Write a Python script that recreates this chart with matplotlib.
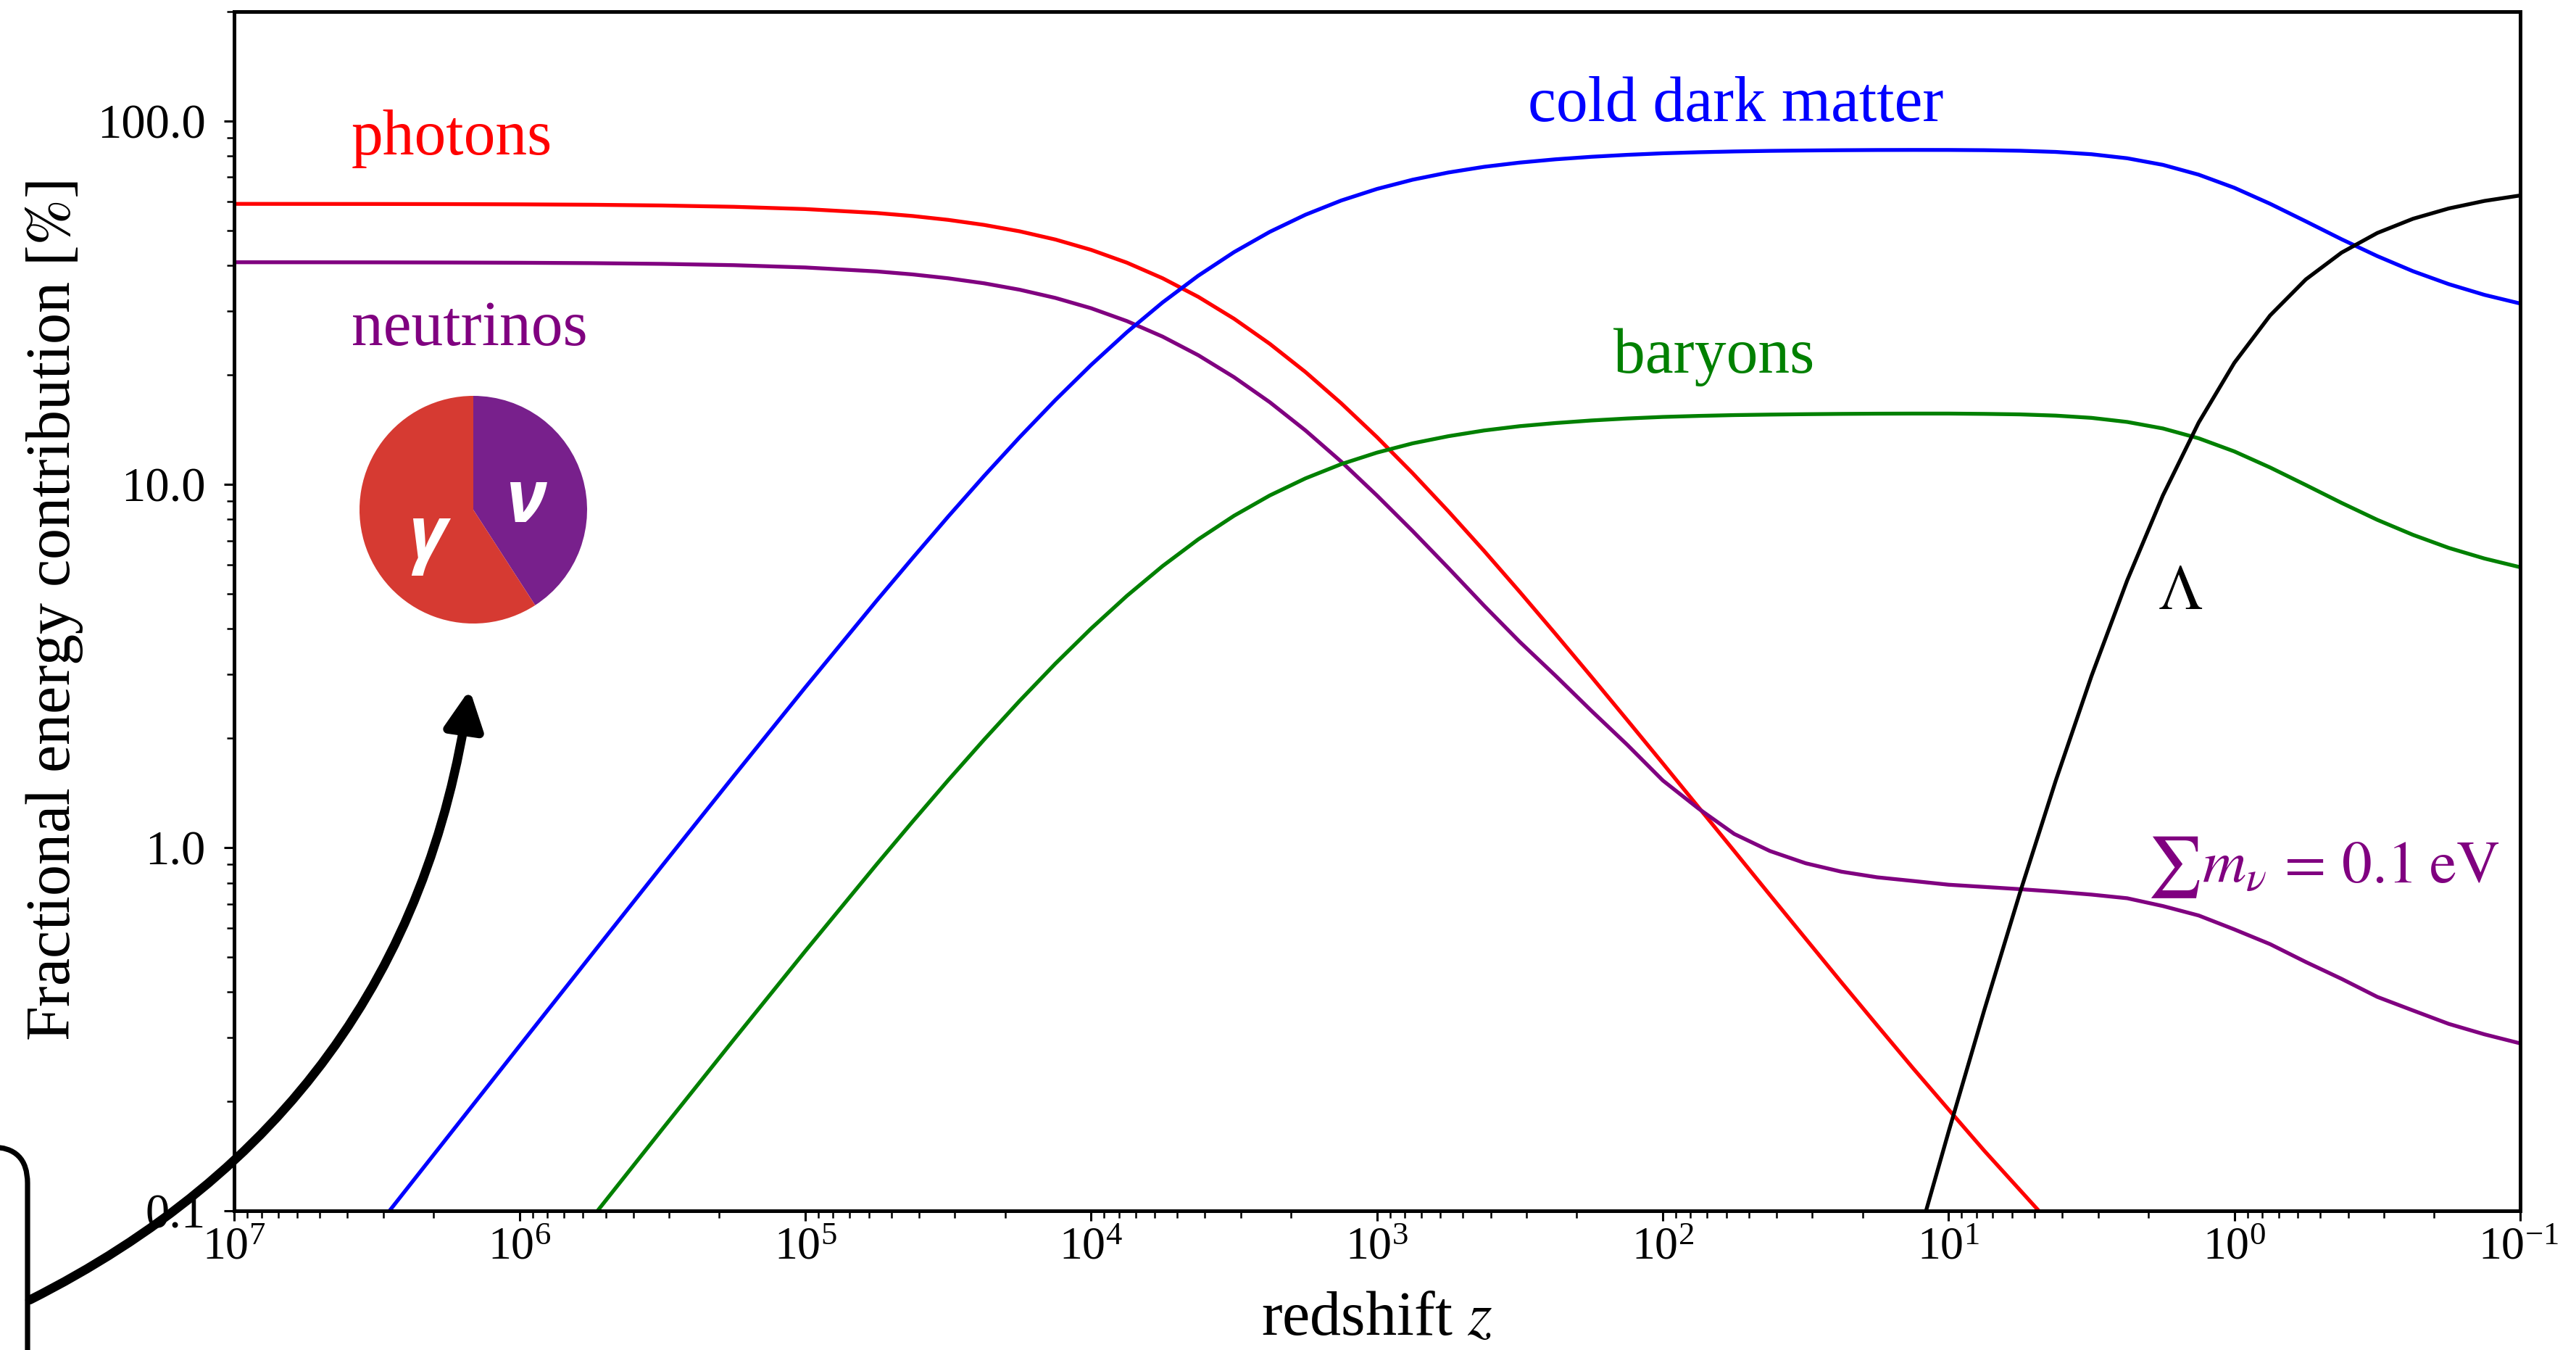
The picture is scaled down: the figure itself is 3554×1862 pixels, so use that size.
import numpy as np
import matplotlib
matplotlib.use("Agg")
import matplotlib.pyplot as plt
from matplotlib.ticker import (FixedLocator, FormatStrFormatter, LogLocator,
                               NullFormatter, FuncFormatter)
from matplotlib.patches import FancyArrowPatch, FancyBboxPatch

# ---------------- data ----------------
# exponents of the redshift samples (z = 10**z_exp)
z_exp = [7.0, 6.75, 6.5, 6.25, 6.0, 5.75, 5.5, 5.25, 5.0, 4.75,
         4.625, 4.5, 4.375, 4.25, 4.125, 4.0, 3.875, 3.75, 3.625, 3.5,
         3.375, 3.25, 3.125, 3.0, 2.875, 2.75, 2.625, 2.5, 2.375, 2.25,
         2.125, 2.0, 1.875, 1.75, 1.625, 1.5, 1.375, 1.25, 1.125, 1.0,
         0.875, 0.75, 0.625, 0.5, 0.375, 0.25, 0.125, 0.0, -0.125, -0.25,
         -0.375, -0.5, -0.625, -0.75, -0.875, -1.0]

# fractional energy contributions in percent
photons = [59.13, 59.11, 59.09, 59.04, 58.95, 58.80, 58.52, 58.04, 57.21, 55.79,
           54.75, 53.42, 51.75, 49.68, 47.16, 44.17, 40.73, 36.90, 32.79, 28.55,
           24.35, 20.36, 16.70, 13.48, 10.72, 8.42, 6.55, 5.05, 3.870, 2.953,
           2.246, 1.705, 1.291, 0.978, 0.740, 0.561, 0.4255, 0.324, 0.2472, 0.190,
           0.1463, 0.114, 0.0888, 0.070, 0.055, 0.0436, 0.0344, 0.0271, 0.0214, 0.0171,
           0.0139, 0.0116, 0.0099, 0.0087, 0.0078, 0.0072]

neutrinos = [40.84, 40.83, 40.81, 40.77, 40.71, 40.61, 40.42, 40.09, 39.51, 38.53,
             37.81, 36.89, 35.74, 34.31, 32.57, 30.51, 28.13, 25.49, 22.65, 19.71,
             16.82, 14.06, 11.54, 9.31, 7.43, 5.88, 4.63, 3.68, 2.97, 2.38,
             1.92, 1.53, 1.28, 1.09, 0.978, 0.905, 0.858, 0.828, 0.809, 0.79,
             0.779, 0.768, 0.756, 0.742, 0.725, 0.69, 0.65, 0.595, 0.542, 0.484,
             0.435, 0.388, 0.356, 0.327, 0.306, 0.289]

cdm = [0.0285, 0.0507, 0.0902, 0.1602, 0.2845, 0.5045, 0.8931, 1.575, 2.761, 4.787,
       6.261, 8.152, 10.53, 13.48, 17.06, 21.31, 26.21, 31.66, 37.51, 43.55,
       49.52, 55.20, 60.40, 64.99, 68.91, 72.14, 74.78, 76.82, 78.42, 79.68,
       80.67, 81.46, 82.01, 82.43, 82.73, 82.93, 83.08, 83.18, 83.22, 83.21,
       83.09, 82.80, 82.18, 80.99, 78.94, 75.71, 71.15, 65.46, 59.16, 52.92,
       47.25, 42.46, 38.58, 35.55, 33.21, 31.44]

baryons = [0.0054, 0.0095, 0.0170, 0.0301, 0.0535, 0.0949, 0.1680, 0.2962, 0.519, 0.900,
           1.178, 1.533, 1.980, 2.535, 3.209, 4.008, 4.929, 5.954, 7.055, 8.190,
           9.314, 10.38, 11.36, 12.22, 12.96, 13.56, 14.06, 14.45, 14.74, 14.98,
           15.17, 15.32, 15.42, 15.50, 15.55, 15.59, 15.62, 15.64, 15.65, 15.65,
           15.62, 15.57, 15.45, 15.23, 14.84, 14.24, 13.38, 12.31, 11.12, 9.95,
           8.885, 7.98, 7.255, 6.68, 6.245, 5.91]

lam_exp = [1.5, 1.375, 1.25, 1.125, 1.0, 0.875, 0.75, 0.625, 0.5, 0.375, 0.25,
           0.125, 0.0, -0.125, -0.25, -0.375, -0.5, -0.625, -0.75, -0.875, -1.0]
dark_energy = [0.0063, 0.01453, 0.0331, 0.0746, 0.165, 0.357, 0.752, 1.528, 2.965,
               5.438, 9.32, 14.78, 21.60, 29.15, 36.63, 43.41, 49.16, 53.80, 57.43,
               60.24, 62.36]

ytick_vals = [0.1, 1.0, 10.0, 100.0]
x_min_exp, x_max_exp = -1, 7

# ---------------- style ----------------
plt.rcParams['font.family'] = ['Liberation Serif', 'DejaVu Serif']
plt.rcParams['mathtext.fontset'] = 'stix'

W, H = 3554, 1862
DPI = 200
fig = plt.figure(figsize=(W / DPI, H / DPI), dpi=DPI)

L, R, T, B = 322.5, 3477, 16, 1670
ax = fig.add_axes([L / W, 1 - B / H, (R - L) / W, (B - T) / H])

z = 10 ** np.array(z_exp)
zl = 10 ** np.array(lam_exp)
lw = 1.9
ax.plot(z, photons, color='red', lw=lw)
ax.plot(z, neutrinos, color='purple', lw=lw)
ax.plot(z, cdm, color='blue', lw=lw)
ax.plot(z, baryons, color='green', lw=lw)
ax.plot(zl, dark_energy, color='black', lw=lw)

ax.set_xscale('log')
ax.set_yscale('log')
ax.set_xlim(10.0 ** x_max_exp, 10.0 ** x_min_exp)
ax.set_ylim(0.1, 200)


def decade_label(v, pos):
    e = int(round(np.log10(v)))
    if e == x_min_exp:
        return ''          # drawn separately below, kept inside the canvas
    return r'$\mathdefault{10^{%d}}$' % e


ax.yaxis.set_major_locator(FixedLocator(ytick_vals))
ax.yaxis.set_major_formatter(FormatStrFormatter('%.1f'))
ax.yaxis.set_minor_locator(LogLocator(base=10, subs=np.arange(2, 10), numticks=100))
ax.yaxis.set_minor_formatter(NullFormatter())
ax.xaxis.set_major_locator(LogLocator(base=10, numticks=100))
ax.xaxis.set_major_formatter(FuncFormatter(decade_label))
ax.xaxis.set_minor_locator(LogLocator(base=10, subs=np.arange(2, 10), numticks=100))
ax.xaxis.set_minor_formatter(NullFormatter())

for s in ax.spines.values():
    s.set_linewidth(1.8)
ax.tick_params(which='major', direction='out', length=5, width=1.1, labelsize=24)
ax.tick_params(which='minor', direction='out', length=3.5, width=0.9)
ax.tick_params(axis='y', which='major', pad=9)
ax.tick_params(axis='x', which='major', pad=3, labelsize=23)

# right-most decade label (10^-1), right-aligned close to the canvas edge as in the reference
ax.annotate(r'$\mathdefault{10^{%d}}$' % x_min_exp, xy=(10.0 ** x_min_exp, 0),
            xycoords=('data', 'axes fraction'), xytext=(19, -8),
            textcoords='offset points', ha='right', va='top', fontsize=23,
            annotation_clip=False)

ax.set_xlabel(r'redshift $z$', fontsize=31, labelpad=11)
ax.set_ylabel(r'Fractional energy contribution [$\%$]', fontsize=31, labelpad=6)

# ---------------- annotations ----------------
fs = 31.5
ax.text(10 ** 6.588, 80.9, 'photons', color='red', fontsize=fs, ha='left', va='baseline')
ax.text(10 ** 6.588, 24.1, 'neutrinos', color='purple', fontsize=fs, ha='left', va='baseline')
ax.text(10 ** 2.473, 100.0, 'cold dark matter', color='blue', fontsize=fs, ha='left', va='baseline')
ax.text(10 ** 2.173, 20.3, 'baryons', color='green', fontsize=fs, ha='left', va='baseline')
ax.text(10 ** 0.188, 4.53, r'$\Lambda$', color='black', fontsize=fs, ha='center', va='baseline')
ax.text(10 ** 0.307, 0.803, r'$\sum m_{\nu} \,=\, 0.1\;\mathrm{eV}$', color='purple',
        fontsize=30, ha='left', va='baseline')

# ---------------- pie inset ----------------
pc_x, pc_y, pr = 653, 703, 157
axp = fig.add_axes([(pc_x - pr) / W, 1 - (pc_y + pr) / H, 2 * pr / W, 2 * pr / H])
axp.pie([neutrinos[0], photons[0]], colors=['#78208c', '#d63a32'], startangle=90,
        counterclock=False, radius=1.0, wedgeprops=dict(linewidth=0))
axp.set_xlim(-1, 1)
axp.set_ylim(-1, 1)
axp.set_aspect('equal')
axp.axis('off')
axp.text(0.30, 0.37, 'γ', transform=axp.transAxes, color='white', fontsize=36,
         fontweight='bold', style='italic', family=['Open Sans', 'DejaVu Sans'],
         ha='center', va='center')
axp.text(0.73, 0.53, 'ν', transform=axp.transAxes, color='white', fontsize=36,
         fontweight='bold', style='italic', family=['Open Sans', 'DejaVu Sans'],
         ha='center', va='center')

# ---------------- arrow and partial box ----------------
arrow = FancyArrowPatch(posA=(41 / W, 1 - 1793 / H), posB=(648 / W, 1 - 951 / H),
                        transform=fig.transFigure, connectionstyle='arc3,rad=0.26',
                        arrowstyle='-|>,head_length=0.4,head_width=0.2',
                        mutation_scale=40, lw=4.5, color='black',
                        shrinkA=0, shrinkB=0)
fig.add_artist(arrow)

box = FancyBboxPatch((-1.0, -1.0), 1.0 + 38 / DPI, 1.0 + (H - 1582) / DPI,
                     boxstyle='round,pad=0,rounding_size=0.25',
                     transform=fig.dpi_scale_trans, fill=False,
                     edgecolor='black', lw=2.6)
fig.add_artist(box)

fig.savefig('out.png', dpi=DPI)
